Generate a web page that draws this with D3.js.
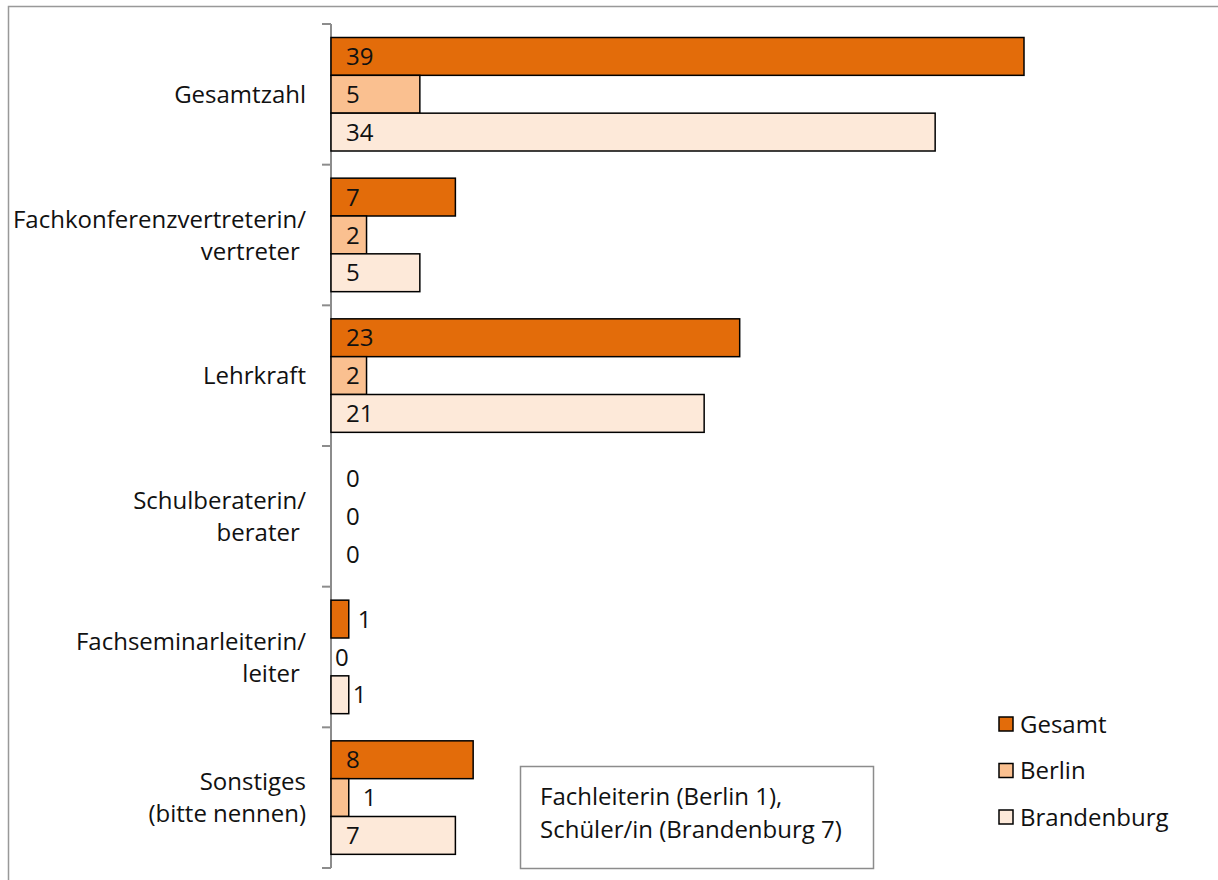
<!DOCTYPE html>
<html><head><meta charset="utf-8">
<script src="https://cdn.jsdelivr.net/npm/d3@7"></script>
<style>
html,body{margin:0;padding:0;background:#fff;}
svg{display:block;font-family:"Open Sans",sans-serif;}
text{white-space:pre;}
</style></head>
<body><svg id="c" width="1218" height="880"></svg>
<script>
const categories = [
  ["Gesamtzahl"],
  ["Fachkonferenzvertreterin/", "vertreter\u00a0"],
  ["Lehrkraft"],
  ["Schulberaterin/", "berater\u00a0"],
  ["Fachseminarleiterin/", "leiter\u00a0"],
  ["Sonstiges", "(bitte nennen)"]
];
const series = ["Gesamt", "Berlin", "Brandenburg"];
const colors = ["#E36C0A", "#FAC090", "#FDE9D9"];
const gesamt = [39, 7, 23, 0, 1, 8];
const berlin = [5, 2, 2, 0, 0, 1];
const brandenburg = [34, 5, 21, 0, 1, 7];
const noteLines = ["Fachleiterin (Berlin 1),", "Schüler/in (Brandenburg 7)"];

const values = [gesamt, berlin, brandenburg];
const svg = d3.select("#c");
const fs = 24;

// outer frame
svg.append("rect").attr("x", 8.5).attr("y", 6.5).attr("width", 1300).attr("height", 1000)
  .attr("fill", "none").attr("stroke", "#999").attr("stroke-width", 1.5);

const catIdx = d3.range(categories.length);
const y = d3.scaleBand().domain(catIdx).range([24, 868]).paddingInner(0).paddingOuter(0);
const y1 = d3.scaleBand().domain(series).range([13.5, 127]);
const x = d3.scaleLinear().domain([0, 45]).range([331, 331 + 45 * 693 / 39]);

// axis
const ag = svg.append("g").attr("transform", "translate(331,0)");
ag.append("line").attr("x1", 0).attr("x2", 0).attr("y1", 24).attr("y2", 868)
  .attr("stroke", "#8c8c8c").attr("stroke-width", 2);
const tickYs = catIdx.map(i => y(i)).concat([y(catIdx.length - 1) + y.bandwidth()]);
ag.selectAll("line.t").data(tickYs).join("line").attr("class", "t")
  .attr("x1", -9).attr("x2", 0).attr("y1", d => d).attr("y2", d => d)
  .attr("stroke", "#8c8c8c").attr("stroke-width", 2);

// bars
series.forEach((s, si) => {
  const g = svg.append("g");
  g.selectAll("rect").data(values[si].map((v, i) => ({v, i}))).join("rect")
    .filter(d => d.v > 0)
    .attr("x", x(0)).attr("y", d => y(d.i) + y1(s))
    .attr("width", d => x(d.v) - x(0)).attr("height", y1.bandwidth())
    .attr("fill", colors[si]).attr("stroke", "#000").attr("stroke-width", 1.5);
  g.selectAll("text").data(values[si].map((v, i) => ({v, i}))).join("text")
    .attr("x", d => {
      const w = x(d.v) - x(0);
      if (d.v === 0) return x(0) + (si === 1 && d.i === 4 ? 4 : 15);
      if (w < 30) return x(d.v) + (si === 1 ? 14 : si === 2 ? 4 : 9);
      return x(0) + 15;
    })
    .attr("y", d => y(d.i) + y1(s) + y1.bandwidth() / 2)
    .attr("dy", "0.36em")
    .attr("font-size", fs).attr("fill", "#111")
    .text(d => d.v);
});

// category labels
categories.forEach((lines, i) => {
  const cy = y(i) + y.bandwidth() / 2;
  const lh = 32;
  const t = svg.append("text").attr("text-anchor", "end").attr("font-size", fs).attr("fill", "#111");
  lines.forEach((l, k) => {
    t.append("tspan").attr("x", 306)
      .attr("y", cy + (k - (lines.length - 1) / 2) * lh)
      .attr("dy", "0.36em").text(l);
  });
});

// note box
svg.append("rect").attr("x", 520.5).attr("y", 766.5).attr("width", 353).attr("height", 102)
  .attr("fill", "#fff").attr("stroke", "#8c8c8c").attr("stroke-width", 1.5);
noteLines.forEach((l, k) => {
  svg.append("text").attr("x", 540).attr("y", 796 + k * 33).attr("dy", "0.36em")
    .attr("font-size", fs).attr("fill", "#111").text(l);
});

// legend
series.forEach((s, si) => {
  const ly = 724 + si * 46.5;
  svg.append("rect").attr("x", 999).attr("y", ly - 7).attr("width", 14).attr("height", 14)
    .attr("fill", colors[si]).attr("stroke", "#000").attr("stroke-width", 1.5);
  svg.append("text").attr("x", 1020).attr("y", ly).attr("dy", "0.36em")
    .attr("font-size", fs).attr("fill", "#111").text(s);
});
</script></body></html>
